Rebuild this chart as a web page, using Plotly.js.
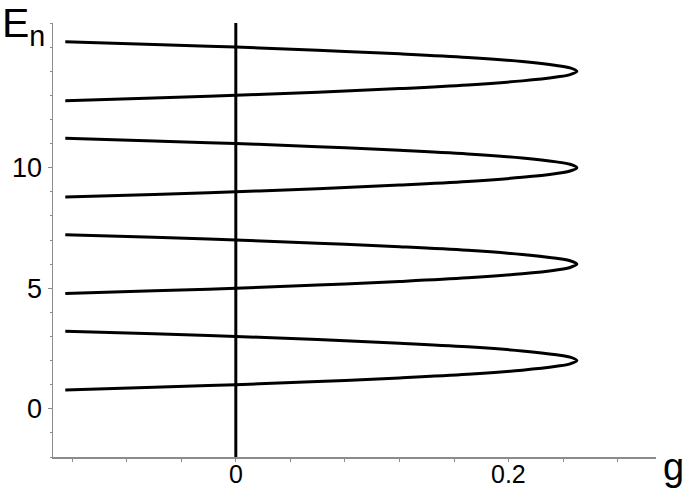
<!DOCTYPE html>
<html>
<head>
<meta charset="utf-8">
<script src="https://cdn.plot.ly/plotly-3.0.1.min.js"></script>
<style>
  html, body { margin: 0; padding: 0; background: #fff; }
  #chart { width: 685px; height: 490px; }
</style>
</head>
<body>
<div id="chart"></div>
<script>
// g values along each loop (left end -> tip -> left end)
const gPts = [-0.125, -0.06, 0, 0.06, 0.12, 0.17, 0.21, 0.235, 0.245, 0.25,
              0.245, 0.235, 0.21, 0.17, 0.12, 0.06, 0, -0.06, -0.125];

// E_n values for each of the four loops at the g values above
const loop1E = [0.78, 0.89, 1.00, 1.13, 1.28, 1.43, 1.60, 1.76, 1.86, 2.00,
                2.14, 2.24, 2.40, 2.57, 2.72, 2.87, 3.00, 3.11, 3.22];
const loop2E = [4.78, 4.89, 5.00, 5.13, 5.28, 5.43, 5.60, 5.76, 5.86, 6.00,
                6.14, 6.24, 6.40, 6.57, 6.72, 6.87, 7.00, 7.11, 7.22];
const loop3E = [8.78, 8.89, 9.00, 9.13, 9.28, 9.43, 9.60, 9.76, 9.86, 10.00,
                10.14, 10.24, 10.40, 10.57, 10.72, 10.87, 11.00, 11.11, 11.22];
const loop4E = [12.78, 12.89, 13.00, 13.13, 13.28, 13.43, 13.60, 13.76, 13.86, 14.00,
                14.14, 14.24, 14.40, 14.57, 14.72, 14.87, 15.00, 15.11, 15.22];

// vertical line at g = 0
const vlineG = [0, 0];
const vlineE = [-2, 16];

// ticks
const yTickVals = [0, 5, 10];
const xTickVals = [0, 0.2];
const xTickText = ['0', '0.2'];

const fontFam = '"Liberation Sans", Arial, Helvetica, sans-serif';
const axisGrey = '#8c8c8c';

// plot area in pixels (used to place the labels)
const plotW = 603;
const plotH = 434;

// Build traces
const loops = [loop1E, loop2E, loop3E, loop4E];
const traces = loops.map(E => ({
    x: gPts,
    y: E,
    type: 'scatter',
    mode: 'lines',
    line: { color: '#000', width: 3, shape: 'spline', smoothing: 1 },
    hoverinfo: 'x+y'
}));

traces.push({
    x: vlineG,
    y: vlineE,
    type: 'scatter',
    mode: 'lines',
    line: { color: '#000', width: 3 },
    hoverinfo: 'none'
});

// x tick labels drawn as annotations so they sit close to the axis
const xLabelAnn = xTickVals.map((v, i) => ({
    text: xTickText[i],
    xref: 'x', yref: 'paper',
    x: v, y: -17 / plotH,
    xanchor: 'center', yanchor: 'middle',
    showarrow: false,
    font: { size: 25, family: fontFam, color: '#000' }
}));

const layout = {
    width: 685,
    height: 490,
    showlegend: false,
    paper_bgcolor: '#fff',
    plot_bgcolor: '#fff',
    margin: { l: 53, r: 29, t: 23, b: 33, pad: 0 },
    font: { family: fontFam, color: '#000' },
    xaxis: {
        range: [-0.134, 0.308],
        showgrid: false,
        zeroline: false,
        showline: true,
        linecolor: axisGrey,
        linewidth: 1.5,
        ticks: 'outside',
        ticklen: 3,
        tickwidth: 1,
        tickcolor: axisGrey,
        tickvals: xTickVals,
        showticklabels: false,
        minor: { dtick: 0.04, tick0: 0, ticks: 'outside', ticklen: 3, tickcolor: axisGrey, showgrid: false }
    },
    yaxis: {
        range: [-2, 16],
        showgrid: false,
        zeroline: false,
        showline: true,
        linecolor: axisGrey,
        linewidth: 1.5,
        ticks: 'outside',
        ticklen: 4,
        tickwidth: 1,
        tickcolor: axisGrey,
        tickvals: yTickVals,
        tickfont: { size: 27, family: fontFam, color: '#000' },
        minor: { dtick: 1, tick0: 0, ticks: 'outside', ticklen: 2, tickcolor: axisGrey, showgrid: false }
    },
    annotations: [
        {
            text: 'E<sub>n</sub>',
            xref: 'paper', yref: 'paper',
            x: -53 / plotW, y: 1 + 25 / plotH,
            xanchor: 'left', yanchor: 'top',
            showarrow: false,
            font: { size: 41, family: fontFam, color: '#000' }
        },
        {
            text: 'g',
            xref: 'paper', yref: 'paper',
            x: 1 + 17 / plotW, y: -10 / plotH,
            xanchor: 'center', yanchor: 'middle',
            showarrow: false,
            font: { size: 38, family: fontFam, color: '#000' }
        }
    ].concat(xLabelAnn)
};

Plotly.newPlot('chart', traces, layout, { displayModeBar: false, staticPlot: true });
</script>
</body>
</html>
